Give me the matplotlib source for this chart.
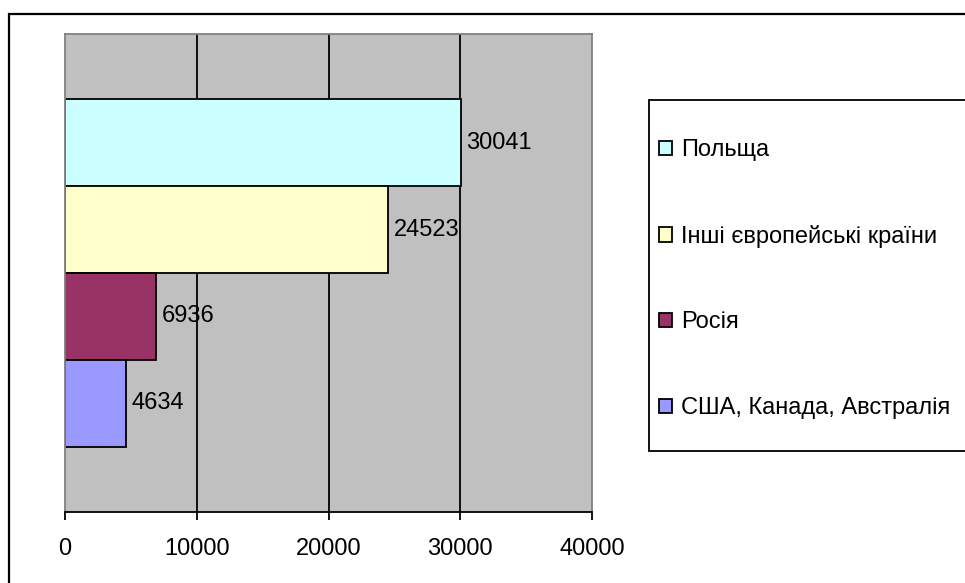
import matplotlib.pyplot as plt
from matplotlib.patches import Rectangle, Patch

# дані
countries = ['Польща', 'Інші європейські країни', 'Росія', 'США, Канада, Австралія']
values = [30041, 24523, 6936, 4634]
colors = ['#CCFFFF', '#FFFFCC', '#993366', '#9999FF']
xticks = [0, 10000, 20000, 30000, 40000]

plt.rcParams['font.family'] = ['Liberation Sans', 'DejaVu Sans']
FS = 17

fig = plt.figure(figsize=(9.65, 5.83), dpi=100, facecolor='white')
ax = fig.add_axes([65 / 965, 1 - 512 / 583, 527 / 965, 478 / 583])
ax.set_facecolor('#C0C0C0')

# рамка навколо діаграми
fig.patches.append(Rectangle((8.5 / 965, -0.1), 1.2, 1 - 14.5 / 583 + 0.1,
                             transform=fig.transFigure, fill=False,
                             edgecolor='black', linewidth=1.6, zorder=0))

# сітка
for x in xticks[1:-1]:
    ax.axvline(x, color='black', linewidth=1.3, zorder=1)

# смуги (Польща зверху)
ypos = list(range(len(values)))[::-1]
bars = ax.barh(ypos, values, height=1.0, color=colors, edgecolor='black',
               linewidth=1.3, zorder=2)
for y, v in zip(ypos, values):
    ax.annotate(str(v), (v, y), xytext=(4, 0), textcoords='offset points',
                ha='left', va='center', fontsize=FS, zorder=3)

ax.set_xlim(0, 40000)
ax.set_ylim(-1.255, 4.255)
ax.set_xticks(xticks)
ax.set_xticklabels([str(t) for t in xticks], fontsize=FS)
ax.tick_params(axis='x', length=6, width=1.3, pad=13, direction='out')
ax.set_yticks([])

for side in ['top', 'left', 'right']:
    ax.spines[side].set_color('#808080')
    ax.spines[side].set_linewidth(1.3)
ax.spines['bottom'].set_color('black')
ax.spines['bottom'].set_linewidth(1.3)

# рамка легенди
fig.patches.append(Rectangle((649 / 965, 1 - 451 / 583), 0.5, 351 / 583,
                             transform=fig.transFigure, facecolor='white',
                             edgecolor='black', linewidth=1.3, zorder=1))

# легенда
handles = [Patch(facecolor=c, edgecolor='black', linewidth=1.3) for c in colors]
leg = fig.legend(handles, countries, loc='upper left',
                 bbox_to_anchor=(659 / 965, 1 - 139 / 583),
                 fontsize=FS, frameon=False, labelspacing=2.7,
                 handlelength=0.55, handleheight=0.55, handletextpad=0.4,
                 borderpad=0, borderaxespad=0)
leg.set_zorder(2)

fig.savefig('out.png', dpi=100, facecolor='white')
